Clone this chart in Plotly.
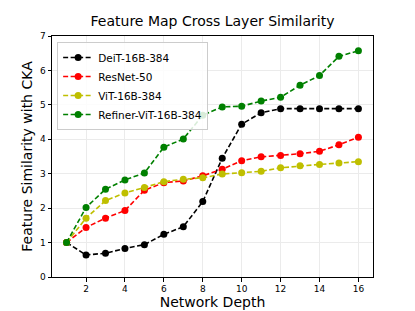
import plotly.graph_objects as go

depth = list(range(1, 17))
deit = [1.0, 0.64, 0.69, 0.83, 0.94, 1.24, 1.46, 2.19, 3.45, 4.44, 4.77, 4.89, 4.89, 4.89, 4.89, 4.89]
resnet = [1.0, 1.44, 1.71, 1.93, 2.52, 2.74, 2.79, 2.94, 3.13, 3.38, 3.49, 3.53, 3.58, 3.65, 3.84, 4.06]
vit = [1.0, 1.71, 2.22, 2.44, 2.60, 2.77, 2.84, 2.88, 2.99, 3.03, 3.07, 3.17, 3.23, 3.27, 3.31, 3.35]
refiner = [1.0, 2.02, 2.55, 2.82, 3.02, 3.77, 4.01, 4.70, 4.94, 4.96, 5.11, 5.22, 5.57, 5.85, 6.41, 6.57]

series = [
    ("DeiT-16B-384", deit, "black"),
    ("ResNet-50", resnet, "#ff0000"),
    ("ViT-16B-384", vit, "#bfbf00"),
    ("Refiner-ViT-16B-384", refiner, "#008000"),
]

FONT = "DejaVu Sans"
fig = go.Figure()
for name, vals, col in series:
    fig.add_trace(go.Scatter(
        x=depth, y=vals, name=name, mode="lines+markers",
        line=dict(color=col, width=1.6, dash="5px,2.5px"),
        marker=dict(color=col, size=7, symbol="circle"),
    ))

axis_common = dict(
    showline=True, linecolor="black", linewidth=1, mirror=True,
    ticks="outside", ticklen=3.5, tickcolor="black",
    showgrid=True, gridcolor="#ebebeb", gridwidth=1,
    zeroline=False, automargin=False,
    tickfont=dict(family=FONT, size=9, color="black"),
)

fig.update_layout(
    width=415, height=311,
    margin=dict(l=52, r=42, t=36, b=34),
    paper_bgcolor="white", plot_bgcolor="white",
    font=dict(family=FONT, color="black"),
    title=dict(text="Feature Map Cross Layer Similarity", x=(52 + 373) / 2 / 415, xanchor="center",
               y=1 - 21 / 311, yanchor="middle", font=dict(family=FONT, size=14, color="black")),
    xaxis=dict(range=[0.25, 16.75], tickvals=[2, 4, 6, 8, 10, 12, 14, 16],
               title=dict(text="Network Depth", font=dict(family=FONT, size=14), standoff=2),
               **axis_common),
    yaxis=dict(range=[0, 7], tickvals=list(range(0, 8)),
               title=dict(text="Feature Similarity with CKA", font=dict(family=FONT, size=14), standoff=4),
               **axis_common),
    legend=dict(x=0.016, y=0.975, xanchor="left", yanchor="top",
                bgcolor="rgba(255,255,255,0.85)", bordercolor="#cccccc", borderwidth=1,
                font=dict(family=FONT, size=10.5, color="black"),
                tracegroupgap=0, itemwidth=30),
    showlegend=True,
)

fig.write_html("out.html", config={"displayModeBar": False},
               post_script="document.body.style.margin='0';document.body.style.overflow='hidden';")
